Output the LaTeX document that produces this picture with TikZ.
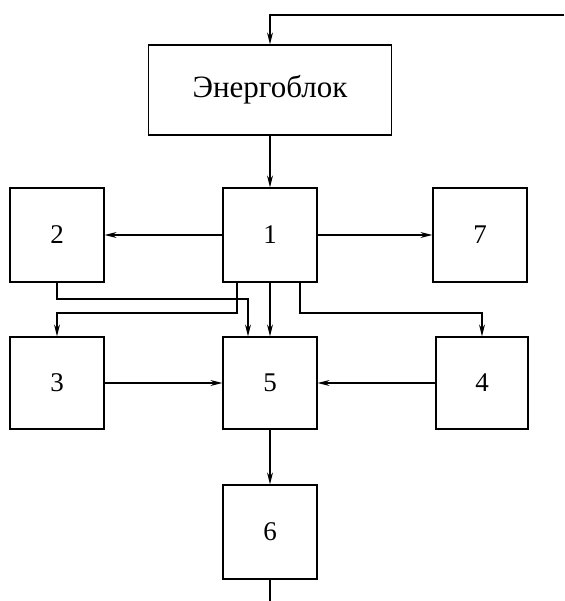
\documentclass[tikz,border=0pt]{standalone}
\usepackage{fontspec}
\setmainfont{Liberation Serif}
\usetikzlibrary{arrows.meta}
\begin{document}
\begin{tikzpicture}[x=1pt,y=-1pt,
  blk/.style={draw,line width=1.2pt,inner sep=0pt,font=\fontsize{27}{32}\selectfont},
  arr/.style={line width=1.2pt,-{Stealth[length=12pt,width=6pt,inset=4pt]}},
  ln/.style={line width=1.2pt}]
\useasboundingbox (0,0) rectangle (564,601);
\node[blk,minimum width=243pt,minimum height=90pt,font=\fontsize{31}{36}\selectfont] (e) at (270,90) {Энергоблок};
\node[blk,minimum width=94pt,minimum height=94pt] (n1) at (270,235) {1};
\node[blk,minimum width=94pt,minimum height=94pt] (n2) at (57,235) {2};
\node[blk,minimum width=94pt,minimum height=94pt] (n7) at (480,235) {7};
\node[blk,minimum width=94pt,minimum height=92pt] (n3) at (57,383) {3};
\node[blk,minimum width=94pt,minimum height=92pt] (n5) at (270,383) {5};
\node[blk,minimum width=92pt,minimum height=92pt] (n4) at (482,383) {4};
\node[blk,minimum width=94pt,minimum height=94pt] (n6) at (270,532) {6};
\coordinate (tin) at (564,15);
\coordinate (bout) at (270,601);
\draw[arr] (tin) -| (e.north);
\draw[arr] (e.south) -- (n1.north);
\draw[arr] (n1.west) -- (n2.east);
\draw[arr] (n1.east) -- (n7.west);
\draw[arr] (n3.east) -- (n5.west);
\draw[arr] (n4.west) -- (n5.east);
\draw[arr] (n1.south) -- (n5.north);
\draw[arr] (n5.south) -- (n6.north);
\draw[ln] (n6.south) -- (bout);
\draw[arr] (n2.south) |- (248,299) -- (n5.north -| 248,0);
\draw[arr] (n1.south -| 237,0) |- (57,313) -- (n3.north);
\draw[arr] (n1.south -| 300,0) |- (482,313) -- (n4.north);
\end{tikzpicture}
\end{document}
